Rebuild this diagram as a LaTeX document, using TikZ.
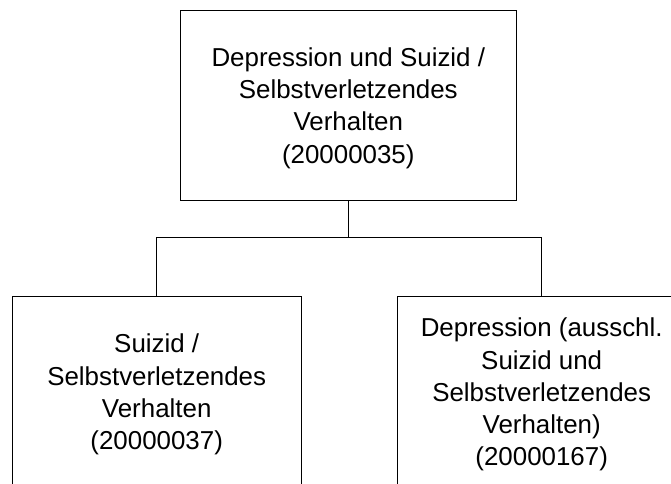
\documentclass[tikz,border=0pt]{standalone}
\usepackage{fontspec}
\setmainfont{Liberation Sans}
\begin{document}
\begin{tikzpicture}[x=1pt,y=1pt,
  box/.style={draw=black, line width=0.9pt, inner sep=0pt, align=center,
    minimum height=190.7pt, text depth=0pt, font=\fontsize{25.9}{32.3}\selectfont},
  conn/.style={draw=black, line width=0.9pt}]
\clip (0,0) rectangle (671,483);
\fill[white] (0,0) rectangle (671,483);
\node[box, minimum width=336.7pt] (top) at (348.3,377.6)
  {Depression und Suizid /\\Selbstverletzendes\\Verhalten\\(20000035)};
\node[box, minimum width=288.7pt] (left) at (156.7,91)
  {Suizid /\\Selbstverletzendes\\Verhalten\\(20000037)};
\node[box, minimum width=289.4pt] (right) at (541.7,91)
  {Depression (ausschl.\\Suizid und\\Selbstverletzendes\\Verhalten)\\(20000167)};
\draw[conn] (top.south) -- ++(0,-36) coordinate (j);
\draw[conn] (left.north) |- (j) -| (right.north);
\end{tikzpicture}
\end{document}
